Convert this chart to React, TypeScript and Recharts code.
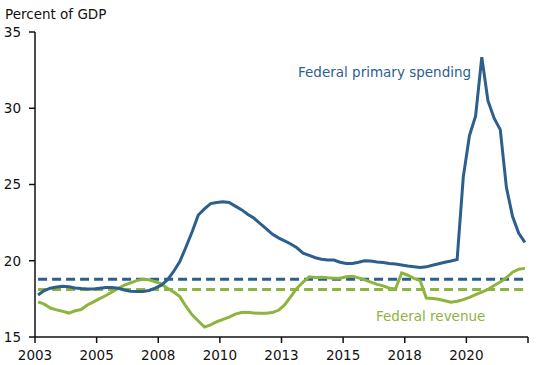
import { LineChart, Line, XAxis, YAxis } from 'recharts';

// quarterly, 2003Q1 .. 2022Q4, percent of GDP
const spending = [
  17.75, 18.05, 18.2, 18.28, 18.33, 18.3, 18.22, 18.18, 18.15, 18.15,
  18.2, 18.25, 18.25, 18.2, 18.08, 18.0, 17.98, 17.98, 18.05, 18.2,
  18.4, 18.75, 19.3, 19.95, 20.9, 21.9, 23.0, 23.4, 23.75, 23.82,
  23.87, 23.82, 23.58, 23.35, 23.05, 22.8, 22.45, 22.1, 21.75, 21.5,
  21.3, 21.1, 20.85, 20.5, 20.35, 20.2, 20.1, 20.05, 20.05, 19.9,
  19.82, 19.82, 19.9, 20.0, 19.98, 19.92, 19.88, 19.82, 19.78, 19.72,
  19.65, 19.6, 19.55, 19.6, 19.7, 19.8, 19.9, 19.98, 20.08, 25.5,
  28.2, 29.5, 33.35, 30.5, 29.35, 28.6, 24.8, 22.9, 21.8, 21.2,
];

const revenue = [
  17.3, 17.15, 16.9, 16.78, 16.68, 16.57, 16.72, 16.8, 17.1, 17.3,
  17.52, 17.72, 17.95, 18.18, 18.4, 18.55, 18.7, 18.78, 18.75, 18.62,
  18.48, 18.2, 17.95, 17.65, 17.0, 16.45, 16.05, 15.65, 15.8, 16.0,
  16.15, 16.3, 16.5, 16.6, 16.62, 16.57, 16.55, 16.55, 16.6, 16.75,
  17.1, 17.65, 18.2, 18.6, 18.95, 18.9, 18.92, 18.88, 18.85, 18.85,
  18.95, 18.98, 18.88, 18.75, 18.6, 18.45, 18.35, 18.2, 18.15, 19.2,
  19.05, 18.85, 18.7, 17.55, 17.52, 17.48, 17.38, 17.28, 17.35, 17.45,
  17.6, 17.78, 17.95, 18.12, 18.38, 18.6, 18.9, 19.25, 19.45, 19.5,
];

const spendingAvg = 18.78;
const revenueAvg = 18.12;

const xTicks = [0, 10, 20, 30, 40, 50, 60, 70, 80];
const xTickLabels = ['2003', '2005', '2008', '2010', '2013', '2015', '2018', '2020', ''];
const yTicks = [15, 20, 25, 30, 35];

const BLUE = '#2d5f8e';
const GREEN = '#8cb43f';
const FONT = 'DejaVu Sans';

const data = spending.map((v, i) => ({
  x: i + 0.5,
  spending: v,
  revenue: revenue[i],
  spendingAvg,
  revenueAvg,
}));

export default function App() {
  const tickStyle = { fontSize: 13.5, fill: '#111', fontFamily: FONT };

  return (
    <div style={{ position: 'absolute', left: 0, top: 0, width: 550, height: 365, fontFamily: FONT }}>
      <LineChart width={550} height={365} data={data} margin={{ top: 32, right: 22, bottom: 0, left: 0 }}>
        <XAxis
          dataKey="x"
          type="number"
          domain={[0, 80]}
          ticks={xTicks}
          tickFormatter={(v: number) => xTickLabels[xTicks.indexOf(v)] ?? ''}
          height={28}
          tickSize={6}
          tickMargin={7}
          stroke="#111"
          strokeWidth={1.5}
          tick={tickStyle}
          interval={0}
        />
        <YAxis
          domain={[15, 35]}
          ticks={yTicks}
          width={35}
          tickSize={6}
          tickMargin={8}
          stroke="#111"
          strokeWidth={1.5}
          tick={tickStyle}
          interval={0}
        />
        <Line dataKey="spendingAvg" stroke={BLUE} strokeWidth={3} strokeDasharray="9 5" dot={false} isAnimationActive={false} />
        <Line dataKey="revenueAvg" stroke={GREEN} strokeWidth={3} strokeDasharray="9 5" dot={false} isAnimationActive={false} />
        <Line dataKey="revenue" stroke={GREEN} strokeWidth={3} dot={false} isAnimationActive={false} />
        <Line dataKey="spending" stroke={BLUE} strokeWidth={3} dot={false} isAnimationActive={false} />
      </LineChart>
      <div style={{ position: 'absolute', left: 5, top: 6, fontSize: 13.5, color: '#111', whiteSpace: 'nowrap' }}>
        Percent of GDP
      </div>
      <div style={{ position: 'absolute', left: 298, top: 64, fontSize: 13.5, color: BLUE, whiteSpace: 'nowrap' }}>
        Federal primary spending
      </div>
      <div style={{ position: 'absolute', left: 376, top: 308, fontSize: 13.5, color: GREEN, whiteSpace: 'nowrap' }}>
        Federal revenue
      </div>
    </div>
  );
}
